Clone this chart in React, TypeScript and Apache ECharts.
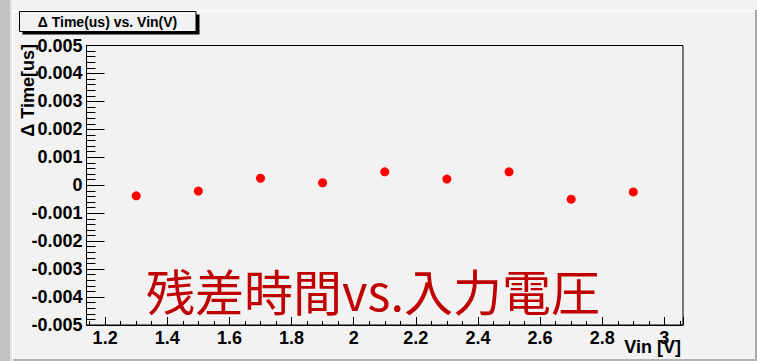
import React, { useEffect, useRef } from "react";
import * as echarts from "echarts";

// Input voltage (V) and timing residual (us)
const vin = [1.3, 1.5, 1.7, 1.9, 2.1, 2.3, 2.5, 2.7, 2.9];
const dTime = [-0.00038, -0.00021, 0.00025, 0.00009, 0.00048, 0.00022, 0.00048, -0.0005, -0.00024];

const xRange = [1.14, 3.06];
const yRange = [-0.005, 0.005];

const frameTitle = "\u0394 Time(us) vs. Vin(V)";
const yTitle = "\u0394 Time[us]";
const xTitle = "Vin [V]";
const caption = "残差時間vs.入力電圧";

const FONT = "'Liberation Sans', Arial, Helvetica, sans-serif";
const BG = "#f2f2f2";

export default function App() {
  const ref = useRef<HTMLDivElement>(null);

  useEffect(() => {
    if (!ref.current) return;
    const chart = echarts.init(ref.current, undefined, { renderer: "svg" });

    const points = vin.map((v, i) => [v, dTime[i]]);
    const isMajor = (v: number) => Math.abs(v / 0.2 - Math.round(v / 0.2)) < 1e-6;

    chart.setOption({
      animation: false,
      backgroundColor: BG,
      grid: {
        left: 86.5,
        top: 45.5,
        right: 74,
        bottom: 36,
        show: true,
        borderColor: "#000",
        borderWidth: 1,
        backgroundColor: "transparent",
        containLabel: false,
      },
      xAxis: [
        {
          // fine 0.05 divisions
          type: "value",
          position: "bottom",
          min: xRange[0],
          max: xRange[1],
          splitNumber: 40,
          minInterval: 0.05,
          maxInterval: 0.05,
          axisLine: { show: false, onZero: false },
          axisTick: { show: true, inside: true, length: 4, lineStyle: { color: "#000", width: 1 } },
          axisLabel: { show: false },
          splitLine: { show: false },
        },
        {
          // main 0.2 divisions with labels
          type: "value",
          position: "bottom",
          min: xRange[0],
          max: xRange[1],
          splitNumber: 10,
          minInterval: 0.2,
          maxInterval: 0.2,
          axisLine: { show: true, onZero: false, lineStyle: { color: "#000", width: 1 } },
          axisTick: { show: true, inside: true, length: 8, lineStyle: { color: "#000", width: 1 } },
          axisLabel: {
            show: true,
            margin: 4,
            color: "#000",
            fontFamily: FONT,
            fontWeight: "bold",
            fontSize: 18,
            formatter: (v: number) => (isMajor(v) ? String(Math.round(v * 10) / 10) : ""),
          },
          splitLine: { show: false },
        },
      ],
      yAxis: {
        type: "value",
        min: yRange[0],
        max: yRange[1],
        interval: 0.001,
        axisLine: { show: true, onZero: false, lineStyle: { color: "#000", width: 1 } },
        axisTick: { show: true, inside: true, length: 18, lineStyle: { color: "#000", width: 1 } },
        minorTick: { show: true, splitNumber: 5, length: 9, lineStyle: { color: "#000", width: 1 } },
        axisLabel: {
          show: true,
          margin: 4,
          color: "#000",
          fontFamily: FONT,
          fontWeight: "bold",
          fontSize: 18,
          padding: [7, 0, 0, 0],
          formatter: (v: number) => {
            const r = Math.round(v * 1000) / 1000;
            return r === 0 ? "0" : r.toFixed(3);
          },
        },
        splitLine: { show: false },
      },
      series: [
        {
          type: "scatter",
          xAxisIndex: 0,
          data: points,
          symbol: "circle",
          symbolSize: 9,
          itemStyle: { color: "#ff0000", opacity: 1 },
          z: 5,
        },
      ],
      graphic: [
        // window edges
        { type: "rect", shape: { x: 0, y: 0, width: 10, height: 361 }, style: { fill: "#c2c2c2" }, silent: true },
        { type: "rect", shape: { x: 10, y: 0, width: 2, height: 361 }, style: { fill: "#e4e4e4" }, silent: true },
        { type: "rect", shape: { x: 12, y: 10, width: 743, height: 1.5 }, style: { fill: "#ffffff" }, silent: true },
        { type: "rect", shape: { x: 12, y: 10, width: 1.5, height: 349 }, style: { fill: "#ffffff" }, silent: true },
        { type: "rect", shape: { x: 755, y: 10, width: 2, height: 351 }, style: { fill: "#a8a8a8" }, silent: true },
        { type: "rect", shape: { x: 13, y: 359, width: 744, height: 2 }, style: { fill: "#b4b4b4" }, silent: true },
        // title box with drop shadow
        { type: "rect", shape: { x: 22.5, y: 14.5, width: 177, height: 20 }, style: { fill: "#000" }, silent: true },
        {
          type: "rect",
          shape: { x: 19.5, y: 11.5, width: 176.5, height: 20 },
          style: { fill: BG, stroke: "#000", lineWidth: 1 },
          silent: true,
        },
        {
          type: "text",
          x: 107.5,
          y: 22,
          style: {
            text: frameTitle,
            fill: "#000",
            font: `bold 14px ${FONT}`,
            align: "center",
            verticalAlign: "middle",
          },
          silent: true,
        },
        // axis titles
        {
          type: "text",
          x: 27.5,
          y: 44,
          rotation: Math.PI / 2,
          style: {
            text: yTitle,
            fill: "#000",
            font: `bold 18px ${FONT}`,
            align: "right",
            verticalAlign: "middle",
          },
          silent: true,
          z: 10,
        },
        {
          type: "text",
          x: 681,
          y: 347,
          style: {
            text: xTitle,
            fill: "#000",
            font: `bold 18px ${FONT}`,
            align: "right",
            verticalAlign: "middle",
          },
          silent: true,
          z: 10,
        },
        // caption inside the frame
        {
          type: "text",
          x: 146,
          y: 289,
          style: {
            text: caption,
            fill: "#c00000",
            font: `49px 'Noto Sans CJK JP', 'Noto Sans CJK SC', sans-serif`,
            align: "left",
            verticalAlign: "middle",
          },
          silent: true,
          z: 10,
        },
      ],
    });

    return () => chart.dispose();
  }, []);

  return (
    <div
      ref={ref}
      style={{ position: "fixed", left: 0, top: 0, width: 757, height: 361 }}
    />
  );
}
